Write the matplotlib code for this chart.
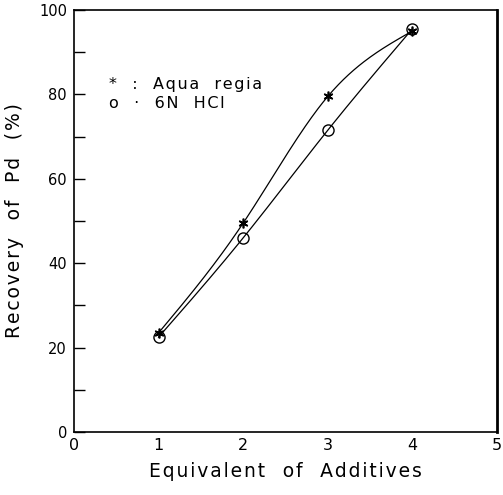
import matplotlib
matplotlib.use("Agg")
import matplotlib.pyplot as plt
import numpy as np

plt.rcParams['font.family'] = ['DejaVu Sans']

# recovery of Pd vs. equivalents of additive
equiv = [1, 2, 3, 4]
aqua_regia = [23.5, 49.5, 79.5, 95.0]
hcl_6n = [22.5, 46.0, 71.5, 95.5]

x_ticks = [0, 1, 2, 3, 4, 5]
y_ticks = [0, 20, 40, 60, 80, 100]


def natural_spline(x, y, n=200):
    x = np.asarray(x, float)
    y = np.asarray(y, float)
    m = len(x)
    h = np.diff(x)
    A = np.zeros((m, m))
    r = np.zeros(m)
    A[0, 0] = A[-1, -1] = 1.0
    for i in range(1, m - 1):
        A[i, i - 1] = h[i - 1]
        A[i, i] = 2 * (h[i - 1] + h[i])
        A[i, i + 1] = h[i]
        r[i] = 6 * ((y[i + 1] - y[i]) / h[i] - (y[i] - y[i - 1]) / h[i - 1])
    M = np.linalg.solve(A, r)
    xs = np.linspace(x[0], x[-1], n)
    k = np.clip(np.searchsorted(x, xs) - 1, 0, m - 2)
    a = x[k + 1] - xs
    b = xs - x[k]
    hk = h[k]
    ys = (M[k] * a ** 3 + M[k + 1] * b ** 3) / (6 * hk) \
        + (y[k] / hk - M[k] * hk / 6) * a + (y[k + 1] / hk - M[k + 1] * hk / 6) * b
    return xs, ys


def spaced(s, gap='\u200a'):
    return gap.join(s)


fig = plt.figure(figsize=(5.03, 4.95), dpi=100)
ax = fig.add_axes([0.147, 0.127, 0.841, 0.853])

for ys in (aqua_regia, hcl_6n):
    xs, yy = natural_spline(equiv, ys)
    ax.plot(xs, yy, color='black', lw=0.9)

ax.plot(equiv, aqua_regia, ls='none', marker=(6, 2, 0), ms=7, mew=1.2, color='black')
ax.plot(equiv, hcl_6n, ls='none', marker='o', ms=8, mfc='none', mec='black', mew=1.0)

ax.set_xlim(0, 5)
ax.set_ylim(0, 100)
ax.set_xticks(x_ticks)
ax.set_yticks(y_ticks)
ax.set_yticks([10, 30, 50, 70, 90], minor=True)
ax.tick_params(axis='both', direction='in', length=8, width=1.0)
ax.tick_params(axis='y', which='minor', direction='in', length=8, width=1.0)
ax.tick_params(axis='x', labelsize=11.5, pad=4)
ax.tick_params(axis='y', labelsize=10.5, pad=5)
for t in ax.xaxis.get_major_ticks():
    t.tick1line.set_visible(t.get_loc() not in (0, 5))

for s in ax.spines.values():
    s.set_linewidth(1.2)
ax.spines['right'].set_linewidth(2.0)

ax.set_xlabel(spaced('Equivalent  of  Additives'), fontsize=13.5, labelpad=7)
ax.set_ylabel(spaced('Recovery  of  Pd  (%)'), fontsize=13.5, labelpad=11)

ax.text(0.42, 82.3, '*   :   ' + spaced('Aqua  regia'), fontsize=11.5, va='center')
ax.text(0.42, 77.9, 'o   \u00b7   ' + spaced('6N  HCl'), fontsize=11.5, va='center')

fig.savefig('out.png', dpi=100)
